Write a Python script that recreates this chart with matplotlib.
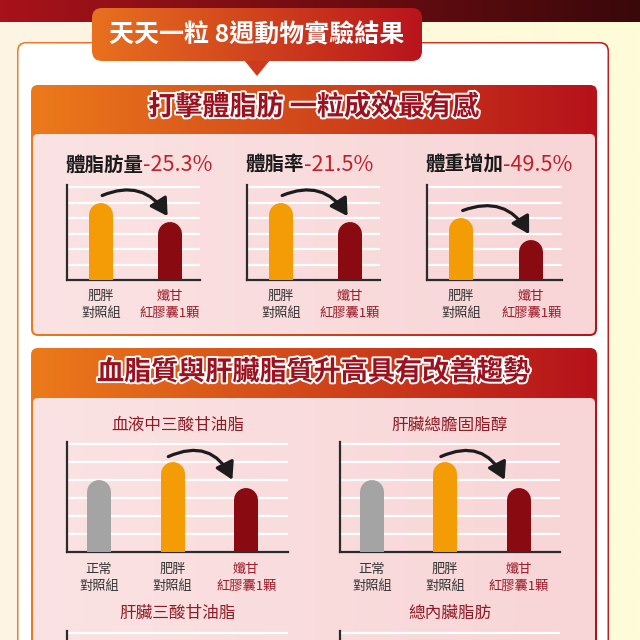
import numpy as np
import matplotlib
matplotlib.use("Agg")
import matplotlib.pyplot as plt
import matplotlib.patheffects as pe
from matplotlib.patches import FancyBboxPatch, Polygon, FancyArrowPatch
from matplotlib.colors import LinearSegmentedColormap

plt.rcParams['font.family'] = ['Noto Sans CJK TC', 'DejaVu Sans']

# ---- data (bar heights in grid units, 6 gridlines per chart) ----
banner_text = "天天一粒 8週動物實驗結果"
section1_title = "打擊體脂肪 一粒成效最有感"
section2_title = "血脂質與肝臟脂質升高具有改善趨勢"

top_titles = ["體脂肪量", "體脂率", "體重增加"]
top_changes = ["-25.3%", "-21.5%", "-49.5%"]
top_groups = ["肥胖\n對照組", "孅甘\n紅膠囊1顆"]
fat_mass = [4.97, 3.74]
fat_rate = [4.97, 3.74]
weight_gain = [4.0, 2.58]

lipid_titles = ["血液中三酸甘油脂", "肝臟總膽固脂醇"]
lipid_groups = ["正常\n對照組", "肥胖\n對照組", "孅甘\n紅膠囊1顆"]
blood_tg = [4.0, 5.0, 3.56]
liver_tc = [4.0, 5.0, 3.56]
lower_titles = ["肝臟三酸甘油脂", "總內臟脂肪"]

ORANGE = "#f39c05"
DARKRED = "#8a0a12"
GRAY = "#a4a4a4"
W = H = 640

fig = plt.figure(figsize=(6.4, 6.4), dpi=100)
bg = fig.add_axes([0, 0, 1, 1])
bg.set_xlim(0, W)
bg.set_ylim(H, 0)
bg.axis("off")


def grad_box(x0, y0, x1, y1, c0, c1, rs, z):
    p = FancyBboxPatch((x0, y0), x1 - x0, y1 - y0,
                       boxstyle=f"round,pad=0,rounding_size={rs}",
                       facecolor="none", edgecolor="none", zorder=z)
    bg.add_patch(p)
    cmap = LinearSegmentedColormap.from_list("g", [c0, c1])
    arr = np.linspace(0, 1, 256).reshape(1, -1)
    im = bg.imshow(arr, cmap=cmap, extent=(x0, x1, y1, y0), aspect="auto",
                   interpolation="bilinear", zorder=z)
    im.set_clip_path(p)
    return p


# background and top band
grad_box(0, 0, W, H, "#fdf4e4", "#fffcd8", 0, 0)
grad_box(0, 0, W, 22, "#a8121a", "#3a080a", 0, 1)

# outer container
grad_box(17, 42, 609, 720, "#ef7d2c", "#c41a22", 9, 2)
bg.add_patch(FancyBboxPatch((18.5, 43.5), 589, 680,
                            boxstyle="round,pad=0,rounding_size=8",
                            facecolor="white", edgecolor="none", zorder=3))

# panels
for (top, hdr, bot) in [(85, 134, 336), (348, 398, 720)]:
    grad_box(31, top, 597, bot, "#ec7a1a", "#b5121b", 7, 4)
    grad_box(33, hdr, 595, bot - 2, "#fbe3e3", "#f8d5d7", 5, 5)

for txt, y in [(section1_title, 107), (section2_title, 372)]:
    bg.text(314, y, txt, ha="center", va="center", fontsize=19.5,
            fontweight="bold", color="#9b111e", zorder=8,
            path_effects=[pe.withStroke(linewidth=2.8, foreground="white")])

# banner
bg.add_patch(Polygon([[244, 60], [270, 60], [257, 76]], closed=True,
                     facecolor="#cf3a1c", edgecolor="none", zorder=6))
grad_box(92, 8, 422, 61, "#e8711f", "#b8141c", 10, 7)
bg.text(257, 35, banner_text, ha="center", va="center", fontsize=18,
        fontweight="bold", color="white", zorder=8)


def add_chart(l, r, t, b, vals, colors, groups, xlim, arrow, pad_lbl=7):
    ppu = (b - t) / 6.0
    pad = 0.12
    ax = fig.add_axes([l / W, 1 - b / H, (r - l) / W, (b - t + pad * ppu) / H])
    ax.set_facecolor("none")
    ax.set_xlim(*xlim)
    ax.set_ylim(0, 6 + pad)
    for s in ["top", "right"]:
        ax.spines[s].set_visible(False)
    for s in ["left", "bottom"]:
        ax.spines[s].set_color("#2b2b2b")
        ax.spines[s].set_linewidth(1.6)
    ax.set_yticks(range(1, 7))
    ax.grid(axis="y", color="white", lw=1.6)
    ax.set_axisbelow(True)
    ax.tick_params(axis="y", length=0, labelleft=False)
    if groups is None:
        ax.set_xticks([])
        return ax
    bw = 24
    rad = bw / 2 / ppu
    for i, (v, c) in enumerate(zip(vals, colors)):
        ax.plot([i, i], [-1, v - rad], lw=bw * 0.72, color=c,
                solid_capstyle="round", zorder=3)
    ax.set_xticks(range(len(groups)))
    ax.set_xticklabels(groups, fontsize=9.5, linespacing=1.4, color="#333333")
    ax.get_xticklabels()[-1].set_color("#9c1c2a")
    ax.tick_params(axis="x", length=0, pad=pad_lbl)
    (ia, dxa, dya), (ib, dxb, dyb), rr = arrow
    ar = FancyArrowPatch((ia + dxa, vals[ia] + dya), (ib + dxb, vals[ib] + dyb),
                         connectionstyle=f"arc3,rad={rr}",
                         arrowstyle="-|>,head_length=0.6,head_width=0.35",
                         mutation_scale=17, lw=2.3, color="#1c1c1c",
                         shrinkA=0, shrinkB=0, zorder=4)
    ax.add_patch(ar)
    return ax


# section 1 charts
renderer = fig.canvas.get_renderer()
two_xlim = (-0.49, 1.44)
arrow2 = ((0, 0.02, 0.48), (1, -0.03, 0.38), -0.42)
for (l, r), vals, title, change in zip([(67, 200), (247, 380), (427, 562)],
                                       [fat_mass, fat_rate, weight_gain],
                                       top_titles, top_changes):
    add_chart(l, r, 187, 280, vals, [ORANGE, DARKRED], top_groups, two_xlim,
              arrow2, pad_lbl=7)
    t1 = bg.text(l - 2, 171, title, ha="left", va="baseline", fontsize=14,
                 fontweight="bold", color="#1a1a1a", zorder=8)
    bb = t1.get_window_extent(renderer)
    bg.text(bb.x1 + 0.5, 171, change, ha="left", va="baseline", fontsize=15.5,
            color="#c0202a", zorder=8)

# section 2 charts
three_xlim = (-0.435, 2.565)
arrow3 = ((1, -0.06, 0.3), (2, -0.19, 0.45), -0.48)
for (l, r), vals, title in zip([(67, 288), (340, 560)], [blood_tg, liver_tc],
                               lipid_titles):
    add_chart(l, r, 444, 552, vals, [GRAY, ORANGE, DARKRED], lipid_groups,
              three_xlim, arrow3, pad_lbl=8)
    bg.text((l + r) / 2, 425, title, ha="center", va="center", fontsize=12,
            color="#8f1b26", zorder=8)

# lower row (cut off at the bottom of the image)
for (l, r), title in zip([(67, 288), (340, 560)], lower_titles):
    add_chart(l, r, 633, 741, None, None, None, three_xlim, None)
    bg.text((l + r) / 2, 613, title, ha="center", va="center", fontsize=12,
            color="#8f1b26", zorder=8)

fig.savefig("out.png", dpi=100)
